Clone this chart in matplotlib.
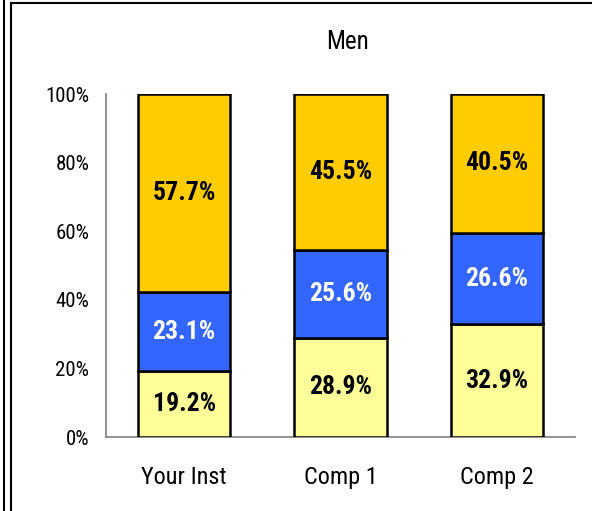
import matplotlib
matplotlib.use("Agg")
import matplotlib.pyplot as plt
from matplotlib.lines import Line2D

plt.rcParams['font.family'] = ['Roboto Condensed', 'DejaVu Sans']

categories = ["Your Inst", "Comp 1", "Comp 2"]
bottom_vals = [19.2, 28.9, 32.9]
middle_vals = [23.1, 25.6, 26.6]
top_vals = [57.7, 45.5, 40.5]
yticks = [0, 20, 40, 60, 80, 100]
ytick_labels = ["0%", "20%", "40%", "60%", "80%", "100%"]
title = "Men"

colors = ["#FFFF99", "#3366FF", "#FFCC00"]
text_colors = ["black", "white", "black"]

fig = plt.figure(figsize=(5.92, 5.11), dpi=100)
ax = fig.add_axes([106/592, 1-437/511, (575-106)/592, (437-94)/511])

x = list(range(len(categories)))
base = [0]*len(categories)
for vals, col, tc in zip([bottom_vals, middle_vals, top_vals], colors, text_colors):
    ax.bar(x, vals, bottom=base, width=0.59, color=col, edgecolor="black", linewidth=1.8, zorder=3)
    for xi, b, v in zip(x, base, vals):
        ax.text(xi, b + v/2, f"{v:.1f}%", ha="center", va="center", color=tc,
                fontsize=18.5, fontweight="bold", zorder=4)
    base = [b + v for b, v in zip(base, vals)]

ax.set_xlim(-0.5, 2.5)
ax.set_ylim(0, 100)
ax.set_yticks(yticks)
ax.set_yticklabels(ytick_labels, fontsize=15)
ax.set_xticks(x)
ax.set_xticklabels(categories, fontsize=17.5)
ax.tick_params(axis="y", length=0, pad=12)
ax.tick_params(axis="x", length=0, pad=21)
for s in ["top", "right"]:
    ax.spines[s].set_visible(False)
for s in ["left", "bottom"]:
    ax.spines[s].set_color("#808080")
    ax.spines[s].set_linewidth(1.2)

fig.text(348/592, 1-42/511, title, ha="center", va="center", fontsize=18)

# outer frame lines
fig.add_artist(Line2D([3.5/592, 3.5/592], [0, 1], color="black", lw=1.5, transform=fig.transFigure))
fig.add_artist(Line2D([10.5/592, 10.5/592], [0, 1-3.5/511], color="black", lw=1.5, transform=fig.transFigure))
fig.add_artist(Line2D([10.5/592, 1], [1-3.5/511, 1-3.5/511], color="black", lw=1.5, transform=fig.transFigure))

fig.savefig("out.png", dpi=100)
